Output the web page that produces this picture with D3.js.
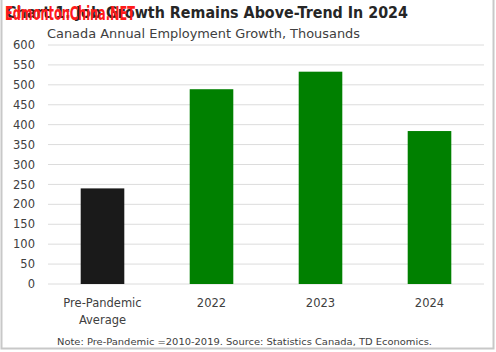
<!DOCTYPE html>
<html>
<head>
<meta charset="utf-8">
<script src="https://cdn.jsdelivr.net/npm/d3@7.9.0/dist/d3.min.js"></script>
<style>
  body { margin: 0; background: #fff; }
  svg { display: block; font-family: "DejaVu Sans", "Open Sans", sans-serif; }
</style>
</head>
<body>
<div id="chart"></div>
<script>
// Data
const categories = ['Pre-Pandemic Average', '2022', '2023', '2024'];
const growth = [240, 489, 533, 384];
const barColors = ['#1a1a1a', '#008000', '#008000', '#008000'];
const yTicks = [0, 50, 100, 150, 200, 250, 300, 350, 400, 450, 500, 550, 600];

const width = 496;
const height = 352;
const margin = { top: 45, right: 12, bottom: 68, left: 48 };

const svg = d3.select('#chart')
  .append('svg')
  .attr('width', width)
  .attr('height', height);

// frame
svg.append('rect')
  .attr('x', 1.5).attr('y', -2)
  .attr('width', width - 4).attr('height', height - 1.5)
  .attr('fill', 'none')
  .attr('stroke', '#c8c8c8')
  .attr('stroke-width', 2);

const x = d3.scaleBand()
  .domain(categories)
  .range([margin.left, width - margin.right])
  .paddingInner(0.6)
  .paddingOuter(0.3);

const y = d3.scaleLinear()
  .domain([0, 600])
  .range([height - margin.bottom, margin.top]);

// gridlines
svg.selectAll('.grid')
  .data(yTicks)
  .enter()
  .append('line')
  .attr('class', 'grid')
  .attr('x1', margin.left)
  .attr('x2', width - margin.right)
  .attr('y1', d => y(d))
  .attr('y2', d => y(d))
  .attr('stroke', '#dcdcdc')
  .attr('stroke-width', 1);

// y tick labels
svg.selectAll('.ytick')
  .data(yTicks)
  .enter()
  .append('text')
  .attr('class', 'ytick')
  .attr('x', 35)
  .attr('y', d => y(d))
  .attr('dy', '0.36em')
  .attr('text-anchor', 'end')
  .attr('fill', '#404040')
  .style('font-size', '11.5px')
  .text(d => d);

// bars
svg.selectAll('.bar')
  .data(categories)
  .enter()
  .append('rect')
  .attr('class', 'bar')
  .attr('x', d => x(d))
  .attr('width', x.bandwidth())
  .attr('y', (d, i) => y(growth[i]))
  .attr('height', (d, i) => y(0) - y(growth[i]))
  .attr('fill', (d, i) => barColors[i]);

// x labels
const xl = svg.selectAll('.xlabel')
  .data(categories)
  .enter()
  .append('text')
  .attr('class', 'xlabel')
  .attr('x', d => x(d) + x.bandwidth() / 2)
  .attr('y', 307)
  .attr('text-anchor', 'middle')
  .attr('fill', '#404040')
  .style('font-size', '11.5px');

xl.each(function(d) {
  const words = d === 'Pre-Pandemic Average' ? ['Pre-Pandemic', 'Average'] : [d];
  d3.select(this).selectAll('tspan')
    .data(words)
    .enter()
    .append('tspan')
    .attr('x', x(d) + x.bandwidth() / 2)
    .attr('dy', (w, i) => i === 0 ? 0 : 17)
    .text(w => w);
});

// title
svg.append('text')
  .attr('x', 6)
  .attr('y', 18)
  .attr('fill', '#262626')
  .attr('textLength', 402)
  .attr('lengthAdjust', 'spacingAndGlyphs')
  .style('font-size', '15px')
  .style('font-weight', 'bold')
  .text('Chart 1: Job Growth Remains Above-Trend In 2024');

// watermark
svg.append('text')
  .attr('x', 5)
  .attr('y', 20)
  .attr('fill', '#ff1a1a')
  .attr('textLength', 130)
  .attr('lengthAdjust', 'spacingAndGlyphs')
  .style('font-family', '"Liberation Sans Narrow", "DejaVu Sans Condensed", sans-serif')
  .style('font-size', '19px')
  .style('font-weight', 'bold')
  .text('EdmontonChina.NET');

// subtitle
svg.append('text')
  .attr('x', 47)
  .attr('y', 38)
  .attr('fill', '#404040')
  .attr('textLength', 313)
  .attr('lengthAdjust', 'spacingAndGlyphs')
  .style('font-size', '12px')
  .text('Canada Annual Employment Growth, Thousands');

// note
svg.append('text')
  .attr('x', 57)
  .attr('y', 345)
  .attr('fill', '#404040')
  .attr('textLength', 375)
  .attr('lengthAdjust', 'spacingAndGlyphs')
  .style('font-size', '9px')
  .text('Note: Pre-Pandemic  =2010-2019.  Source: Statistics Canada, TD Economics.');
</script>
</body>
</html>
